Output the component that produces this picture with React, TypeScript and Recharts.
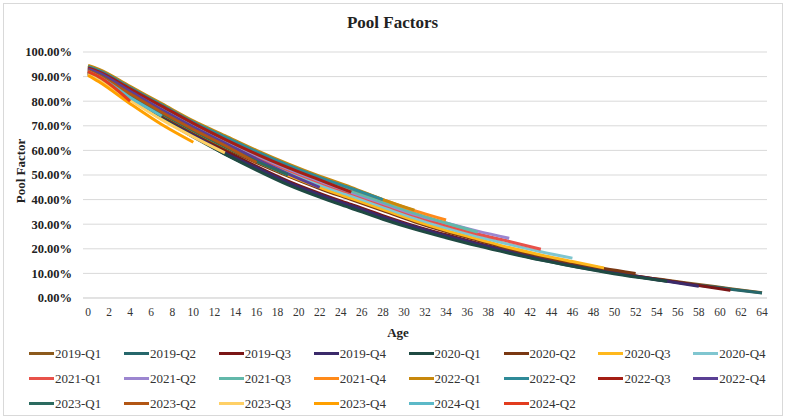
import React from 'react';
import { LineChart, Line, XAxis, YAxis, CartesianGrid } from 'recharts';

const AGES = [0, 1, 4, 7, 10, 13, 16, 19, 22, 25, 28, 31, 34, 37, 40, 43, 46, 49, 52, 55, 58, 61, 64];
const X_TICKS = [0, 2, 4, 6, 8, 10, 12, 14, 16, 18, 20, 22, 24, 26, 28, 30, 32, 34, 36, 38, 40, 42, 44, 46, 48, 50, 52, 54, 56, 58, 60, 62, 64];
const Y_TICKS = [0, 10, 20, 30, 40, 50, 60, 70, 80, 90, 100];

// pool factor (%) per vintage, one value per entry of AGES until the vintage ends
const v2019Q1 = [91.5, 90, 81.5, 74, 66.5, 59.5, 53, 47, 42, 37.5, 33, 29, 25.5, 22, 19, 16, 13.5, 11.2, 9, 7.2, 5.5, 3.8, 2.1];
const v2019Q2 = [91, 89.5, 81, 73.5, 66, 58.5, 52.5, 46.5, 41.5, 37, 32.5, 28.5, 25, 21.5, 18.5, 15.5, 13, 10.8, 8.7, 6.9, 5.2, 3.6, 2];
const v2019Q3 = [92, 90.5, 82, 74.5, 67, 60, 53.5, 47.5, 42.5, 38, 33.5, 29.3, 25.7, 22.3, 19.2, 16.2, 13.6, 11.2, 9, 7, 5.1, 3.1];
const v2019Q4 = [91.5, 90, 81.5, 74, 66.5, 59, 53, 47, 42, 37.5, 33, 29, 25.3, 22, 19, 16, 13.4, 11, 8.8, 6.8, 4.8];
const v2020Q1 = [91, 89.5, 81, 73, 65.5, 58.5, 52, 46, 41, 36.5, 32, 28, 24.5, 21.2, 18.2, 15.4, 12.9, 10.6, 8.5, 6.8];
const v2020Q2 = [91.5, 90, 82, 74.5, 67.5, 61, 55, 49.5, 44.5, 40, 35.5, 31, 27, 23.5, 20, 17, 14.3, 12, 10];
const v2020Q3 = [91.5, 90, 82, 75, 68, 61.5, 55.5, 50, 45, 40.5, 36, 31.5, 27.5, 24, 20.5, 17.5, 14.8, 12.2];
const v2020Q4 = [92, 90.5, 83, 76, 69, 62.5, 56.5, 51, 46, 41.5, 37, 32.5, 28.5, 25, 21.8, 18.8, 16.2];
const v2021Q1 = [92.5, 91, 84, 77, 70, 63.5, 57.5, 52, 47, 42.5, 38, 33.5, 29.5, 26, 23, 19.8];
const v2021Q2 = [93, 91.5, 84.5, 77.5, 70.5, 64, 58, 52.5, 47.5, 43, 38.5, 34, 30.5, 27.2, 24.3];
const v2021Q3 = [93.5, 92, 85, 78, 71, 64.5, 58.5, 53, 48, 43.5, 39, 34.5, 30.5, 26.8];
const v2021Q4 = [94, 92.5, 85.5, 78.5, 71.5, 65.5, 59.5, 54, 49, 44.5, 40, 35.5, 31.7];
const v2022Q1 = [94.5, 93, 86, 79, 72, 66, 60, 54.5, 49.5, 45, 40, 35.7];
const v2022Q2 = [94, 92.5, 85.5, 78.5, 71.5, 65.5, 59.5, 54, 49, 44.5, 40];
const v2022Q3 = [93.5, 92, 85, 78, 71, 64.5, 58.5, 53, 48, 43];
const v2022Q4 = [93, 91.5, 84, 76.5, 69.5, 63, 56.5, 50.5, 45];
const v2023Q1 = [92, 90.5, 82.5, 75, 68, 61.5, 55.5, 50];
const v2023Q2 = [92.5, 90.5, 83, 75.5, 68.5, 62, 55];
const v2023Q3 = [91, 89, 80.5, 72.5, 65.5, 59];
const v2023Q4 = [90.5, 88, 79, 70.5, 63.3];
const v2024Q1 = [92, 90, 81.5, 74];
const v2024Q2 = [92, 90, 80];

const SERIES = [
  { name: '2019-Q1', color: '#8c5a1c', values: v2019Q1 },
  { name: '2019-Q2', color: '#26676b', values: v2019Q2 },
  { name: '2019-Q3', color: '#7a1616', values: v2019Q3 },
  { name: '2019-Q4', color: '#3b2a6a', values: v2019Q4 },
  { name: '2020-Q1', color: '#1f4a42', values: v2020Q1 },
  { name: '2020-Q2', color: '#7a3812', values: v2020Q2 },
  { name: '2020-Q3', color: '#ffb81c', values: v2020Q3 },
  { name: '2020-Q4', color: '#80c6d0', values: v2020Q4 },
  { name: '2021-Q1', color: '#e8524a', values: v2021Q1 },
  { name: '2021-Q2', color: '#9c86d0', values: v2021Q2 },
  { name: '2021-Q3', color: '#62b8aa', values: v2021Q3 },
  { name: '2021-Q4', color: '#ff8a1a', values: v2021Q4 },
  { name: '2022-Q1', color: '#c8880c', values: v2022Q1 },
  { name: '2022-Q2', color: '#2f8a98', values: v2022Q2 },
  { name: '2022-Q3', color: '#a41e14', values: v2022Q3 },
  { name: '2022-Q4', color: '#5a3f94', values: v2022Q4 },
  { name: '2023-Q1', color: '#2c6b60', values: v2023Q1 },
  { name: '2023-Q2', color: '#b25614', values: v2023Q2 },
  { name: '2023-Q3', color: '#ffd066', values: v2023Q3 },
  { name: '2023-Q4', color: '#ffa000', values: v2023Q4 },
  { name: '2024-Q1', color: '#5cb9c8', values: v2024Q1 },
  { name: '2024-Q2', color: '#e23c1e', values: v2024Q2 },
];

const data = AGES.map((age, i) => {
  const row: Record<string, number> = { age };
  SERIES.forEach((s) => {
    if (i < s.values.length) row[s.name] = s.values[i];
  });
  return row;
});

const FONT = '"Liberation Serif", "Times New Roman", serif';

const LegendBox = () => (
  <div style={{ position: 'absolute', left: 0, top: 341, width: 785 }}>
    {SERIES.map((s, i) => (
      <div
        key={s.name}
        style={{
          position: 'absolute',
          left: 29 + (i % 8) * 94.9,
          top: Math.floor(i / 8) * 25,
          height: 25,
          display: 'flex',
          alignItems: 'center',
          fontFamily: FONT,
          fontSize: 13,
          color: '#333',
          whiteSpace: 'nowrap',
        }}
      >
        <span style={{ display: 'inline-block', width: 25, height: 3, background: s.color, marginRight: 1 }} />
        {s.name}
      </div>
    ))}
  </div>
);

export default function App() {
  return (
    <div style={{ position: 'relative', width: 785, height: 419, background: '#fff', fontFamily: FONT }}>
      <style>{'body{margin:0}'}</style>
      <div style={{ position: 'absolute', left: 3, top: 3, width: 778, height: 411, border: '1px solid #d9d9d9' }} />
      <div style={{ position: 'absolute', left: 0, top: 13, width: 785, textAlign: 'center', fontSize: 17, fontWeight: 'bold', color: '#222' }}>
        Pool Factors
      </div>
      <div
        style={{
          position: 'absolute',
          left: 21,
          top: 171,
          transform: 'translate(-50%, -50%) rotate(-90deg)',
          fontSize: 13,
          fontWeight: 'bold',
          color: '#222',
          whiteSpace: 'nowrap',
        }}
      >
        Pool Factor
      </div>
      <div style={{ position: 'absolute', left: 398, top: 333, transform: 'translate(-50%, -50%)', fontSize: 13, fontWeight: 'bold', color: '#222' }}>
        Age
      </div>
      <div style={{ position: 'absolute', left: 0, top: 0 }}>
        <LineChart width={785} height={330} data={data} margin={{ top: 52, right: 18, left: 21, bottom: 12 }}>
          <CartesianGrid vertical={false} stroke="#d9d9d9" strokeWidth={1} />
          <XAxis
            dataKey="age"
            type="number"
            domain={[0, 64]}
            ticks={X_TICKS}
            interval={0}
            padding={{ left: 5, right: 5 }}
            axisLine={{ stroke: '#d9d9d9' }}
            tickLine={false}
            tickMargin={4}
            height={20}
            tick={{ fill: '#333', fontSize: 11.5, fontFamily: FONT }}
          />
          <YAxis
            type="number"
            domain={[0, 100]}
            ticks={Y_TICKS}
            interval={0}
            axisLine={false}
            tickLine={false}
            width={62}
            tickMargin={5}
            tickFormatter={(v: number) => v.toFixed(2) + '%'}
            tick={{ fill: '#222', fontSize: 12.5, fontWeight: 'bold', fontFamily: FONT }}
          />
          {SERIES.map((s) => (
            <Line
              key={s.name}
              type="monotone"
              dataKey={s.name}
              stroke={s.color}
              strokeWidth={3}
              dot={false}
              activeDot={false}
              isAnimationActive={false}
            />
          ))}
        </LineChart>
      </div>
      <LegendBox />
    </div>
  );
}
